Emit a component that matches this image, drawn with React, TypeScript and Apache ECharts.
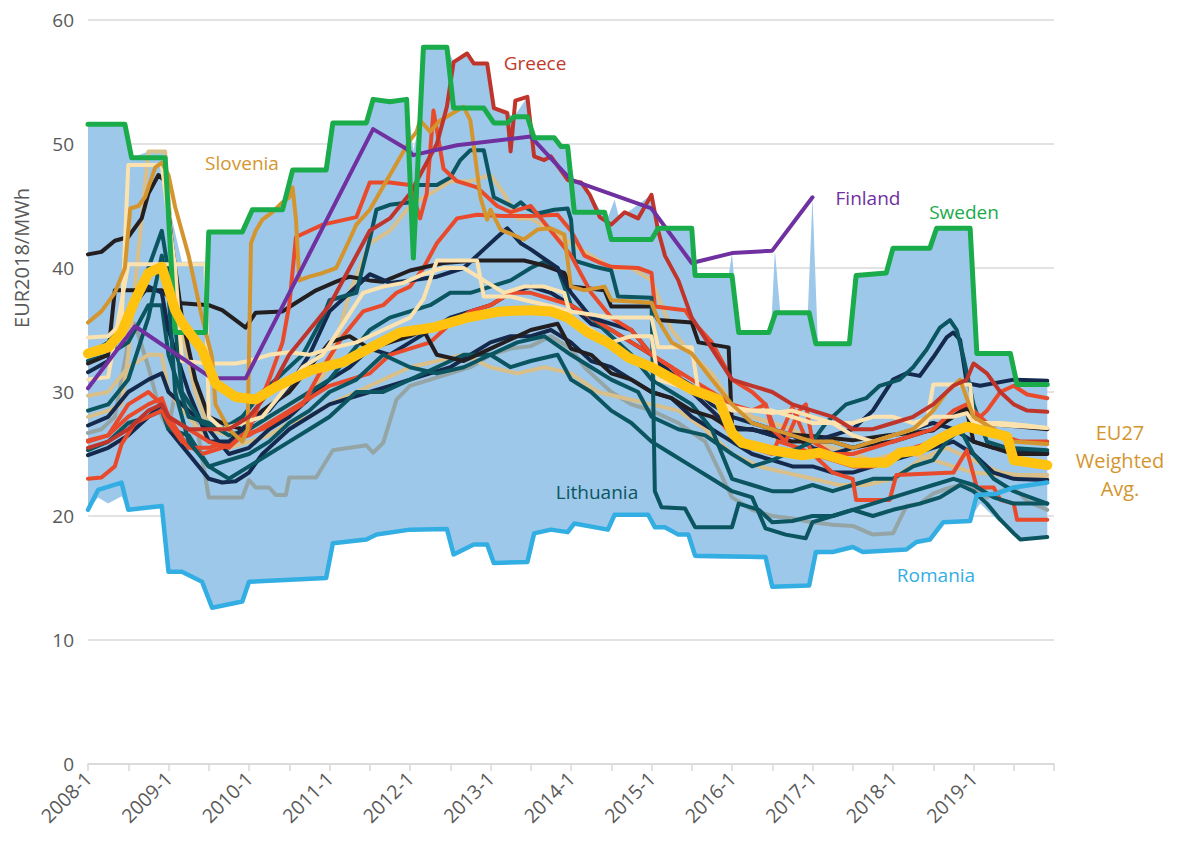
import React, { useEffect, useRef } from "react";
import * as echarts from "echarts";

type P = [number, number];

// x = months since 2008-1
const yearLabels = ["2008-1","2009-1","2010-1","2011-1","2012-1","2013-1","2014-1","2015-1","2016-1","2017-1","2018-1","2019-1"];

const bandTop: P[] = [[0,51.6],[5.5,51.6],[6.5,48.9],[9,49.4],[11.5,49.4],[12.5,44],[14,40.5],[17.5,40.5],[18,42.9],[23,42.9],[24.5,44.7],[29,44.7],[30.5,47.9],[35.5,47.9],[36.5,51.7],[41.5,51.7],[42.5,53.6],[47.5,53.6],[48.5,49.5],[49.5,51.9],[50,57.8],[53.5,57.8],[54.5,56.6],[56.5,57.3],[57.5,56.5],[59.5,56.5],[60.5,52.9],[62.5,52.5],[63.5,52.2],[65.5,53.8],[66.5,50.5],[69.5,50.5],[70.5,49.8],[71.5,49.8],[72.5,47.1],[74,46.9],[75,45.9],[76.5,44.5],[77.5,44.1],[78.5,45.5],[79.2,44],[84,45.9],[85,43.2],[90,43.2],[90.5,39.4],[95.5,39.4],[96,41.2],[96.8,36],[97.2,34.8],[101.8,34.8],[102.4,41.4],[103.2,36.4],[107.3,36.4],[108,45.7],[108.8,33.9],[113.5,33.9],[114.5,39.4],[119,39.6],[120,41.6],[125.5,41.6],[126.5,43.2],[131.5,43.2],[132.5,33.1],[137.5,33.1],[138.5,30.6],[143,30.6]];
const bandBottom: P[] = [[0,20.5],[1.5,21.5],[3,21],[5,21.6],[6,20.5],[11,20.8],[12,15.5],[14,15.5],[17,14.7],[18.5,12.6],[23,13.1],[24,14.7],[35.5,15.0],[36.5,17.8],[41.5,18.1],[43,18.5],[48,18.9],[53.5,18.95],[54.5,16.9],[57.5,17.7],[59.5,17.7],[60.5,16.2],[65.5,16.3],[66.5,18.6],[69,18.9],[71.5,18.7],[72.5,19.4],[77.5,18.9],[78.5,20.1],[83.5,20.1],[84.5,19.1],[86,19.1],[88,18.5],[89.5,18.5],[90.5,16.6],[101,16.5],[102,14.3],[107.5,14.4],[108.5,16.9],[111,17],[114,17.4],[115.5,17],[122,17.2],[123.5,17.8],[125.5,18],[127.5,19.4],[131.5,19.5],[132,20.2],[133,21],[135.5,19.7],[138,18.6],[139,18.1],[143,18.3]];

const sweden: P[] = [[0,51.6],[5.5,51.6],[6.5,48.9],[11.5,48.9],[13,34.8],[17.5,34.8],[18,42.9],[23,42.9],[24.5,44.7],[29,44.7],[30.5,47.9],[35.5,47.9],[36.5,51.7],[41.5,51.7],[42.5,53.6],[45,53.4],[47.5,53.6],[48.5,40.8],[50,57.8],[53.5,57.8],[54.5,52.9],[59,52.9],[60.5,51.7],[62.5,51.7],[63.5,52.2],[65.5,52.2],[66.5,50.5],[69.5,50.5],[70.5,49.8],[71.5,49.8],[72.5,44.5],[77,44.5],[78,42.3],[84,42.3],[85,43.2],[90,43.2],[90.5,39.4],[96,39.4],[97,34.8],[101.5,34.8],[102.5,36.4],[107.5,36.4],[108.5,33.9],[113.5,33.9],[114.5,39.4],[119,39.6],[120,41.6],[125.5,41.6],[126.5,43.2],[131.5,43.2],[132.5,33.1],[137.5,33.1],[138.5,30.6],[143,30.6]];
const finland: P[] = [[0,30.3],[7,35.3],[18.5,31.1],[23.5,31.1],[42.5,51.2],[47.5,49.6],[48.5,49.1],[55,49.9],[66,50.6],[72,47.1],[84,44.8],[90,40.4],[96,41.2],[102,41.4],[108,45.7]];
const romania: P[] = [[0,20.5],[1.5,22.1],[5,22.7],[6,20.5],[11,20.8],[12,15.5],[14,15.5],[17,14.7],[18.5,12.6],[23,13.1],[24,14.7],[35.5,15.0],[36.5,17.8],[41.5,18.1],[43,18.5],[48,18.9],[53.5,18.95],[54.5,16.9],[57.5,17.7],[59.5,17.7],[60.5,16.2],[65.5,16.3],[66.5,18.6],[69,18.9],[71.5,18.7],[72.5,19.4],[77.5,18.9],[78.5,20.1],[83.5,20.1],[84.5,19.1],[86,19.1],[88,18.5],[89.5,18.5],[90.5,16.8],[101,16.7],[102,14.3],[107.5,14.4],[108.5,17.1],[111,17.1],[114,17.5],[115.5,17.1],[122,17.3],[123.5,17.9],[125.5,18.1],[127.5,19.5],[131.5,19.6],[132.5,21.7],[135.5,21.8],[138,22.3],[143,22.7]];
const greece: P[] = [[0,25.5],[3,26],[6,27],[9,28.5],[11,29],[12,28],[15,27],[18,27],[21,27],[24,28],[27,30],[30,33],[33,35],[36,37],[39,40],[42,43],[45,44],[48,46],[50,48],[52,50],[53.5,53],[54.5,56.6],[56.5,57.3],[57.5,56.5],[59.5,56.5],[60.5,52.9],[62.5,52.5],[63,49.4],[63.7,53.5],[65.5,53.8],[66.5,49],[68,48.7],[69,49],[71.5,47.1],[73.5,46.9],[74.8,45.9],[76.3,44.1],[78,43.5],[80,44.5],[82,44],[84,45.9],[85,43],[86,41],[88,39],[90,36],[93,33.5],[96,31],[99,30.5],[102,30],[105,29],[108,28.5],[111,28],[114,27],[117,27],[120,27.5],[123,28],[126,29],[129,30.5],[131,31],[132,32.3],[134,31.5],[136,30],[138,29],[140,28.5],[143,28.4]];
const slovenia: P[] = [[0,35.6],[2,36.5],[4,38],[5.5,40],[6.3,44.8],[7.5,45],[8.5,45.7],[10,48.1],[11,48.5],[12,47.5],[13,44.9],[15,41],[17,36],[18.5,32.8],[19,29],[21,27],[23,26],[23.8,27],[24.3,42],[25,43],[26,43.9],[27.5,44.5],[29,45.3],[30,45.7],[30.5,46.5],[31,43.9],[31.5,39],[33,39.3],[35,39.6],[37,40],[39,42.3],[40,43.5],[42,44.7],[45,47.5],[48,50.3],[49,51],[49.5,51.9],[51,51],[52.5,51.9],[56,53],[57,51.9],[58.5,45.7],[59.5,43.9],[60,44.7],[61.5,43.1],[65,42.3],[67,43.1],[69,43.2],[71,42.7],[72,38.5],[74,38.2],[77,38.5],[78,37.4],[81,37.3],[84,37.2],[85,35.8],[87,34],[90,33.1],[93,31],[96,29],[99,27.5],[102,27],[105,26.5],[108,26],[111,26],[114,25.5],[117,26],[120,26.5],[123,27],[126,28.5],[128,30],[130,31],[132,28],[135,27],[138,26],[143,25.8]];
const eu27Avg: P[] = [[0,33.1],[3,33.6],[5,34.8],[7,37.4],[9,39.6],[11,40.1],[13,36.6],[14,35.6],[17,33.4],[19,30.7],[22,29.6],[25,29.4],[28,30.4],[31,31.2],[33.5,31.8],[38,32.4],[41.5,33.4],[46.5,34.8],[51.5,35.2],[56.5,36.0],[61.5,36.5],[66,36.6],[69,36.5],[71.5,36.0],[74.5,34.8],[77.5,34.0],[80.5,32.8],[84,32.0],[90,30.2],[94,29.4],[96,26.7],[97.5,25.9],[102,25.3],[106.5,24.9],[109,25.1],[111.5,24.7],[114,24.3],[119,24.3],[121,25.1],[124,25.3],[126.5,26.1],[129,26.8],[131,27.2],[134,26.8],[137,26.4],[138,24.5],[143,24.1]];

const black1: P[] = [[0,41.1],[2,41.3],[4,42.2],[6,42.5],[8,44],[9,46],[10.5,47.5],[11.5,47],[12.5,42],[14,36],[16,31],[18,28],[20,27.5],[23,27],[26,28.5],[30,30],[33,32],[36,34],[39,34.5],[42,33.5],[45,34],[48,34.5],[50,35],[52,33],[56,32.5],[60,33.5],[64,34.5],[66,35],[70,35.5],[72,33.5],[75,33],[78,31.5],[81,31],[84,30],[87,29.5],[90,28.5],[93,28],[96,27],[99,27],[102,26.5],[105,26],[108,26],[111,26],[114,25.5],[117,25.8],[120,26],[123,26.5],[126,27],[129,28],[131,28.5],[132,26],[135,25.5],[138,25],[143,25]];
const black2: P[] = [[0,32.3],[3,33],[4,38.2],[11,38.2],[13,37.2],[18,37],[20,36.6],[22,35.8],[23.5,35.2],[25,36.4],[29,36.5],[31,37.2],[34,38.2],[37,38.9],[39,39.3],[42,39],[44,38.9],[48,39.8],[53,40.4],[58,40.6],[65,40.6],[68,40.2],[71,39.6],[72,38.5],[77,38.2],[78,36.9],[84,36.9],[85,35.8],[90,35.6],[91,34],[95.5,33.6],[96,27.2],[102,26.7],[109,26.4],[114,26.1],[119,26.5],[126,26.9],[131,28.8],[132,27.5],[137,27.3],[143,27]];
const navy1: P[] = [[0,31.6],[3,32.5],[6,36.5],[9,38.5],[11,38],[12,35],[15,30],[18,26],[21,26],[24,27.5],[27,28.5],[30,30.5],[33,33],[36,36.5],[39,38],[42,39.5],[45,38.8],[48,39],[52,39.3],[56,40],[59,41.5],[61,42.5],[62.5,43.2],[64.5,42],[66,41.5],[70,40],[72,38],[75,36],[78,35.5],[81,35],[84,33],[87,31],[90,30],[93,28.5],[96,27],[99,27],[102,26.5],[105,26.5],[108,26],[111,26.5],[114,27],[117,28.5],[120,31],[122,31.5],[124,31.3],[126,32.8],[128,34.4],[129,34.8],[130,34.2],[131,30.7],[133,30.5],[138,31],[143,30.9]];
const navy2: P[] = [[0,24.9],[3,25.5],[6,26.5],[9,28],[11,29],[12,27],[15,25],[18,23],[20,22.7],[22,22.8],[24,23.5],[26,25],[28,26],[30,27],[33,28],[36,29],[39,29.5],[42,30],[45,30.5],[48,31],[51,31.5],[54,32],[57,33],[60,34],[63,34.5],[66,34.5],[69,35],[72,34],[75,32.5],[78,32],[81,31],[84,30],[87,29.5],[90,28],[93,27],[96,26],[99,25],[102,24.5],[105,24],[108,24],[111,23.5],[114,23.5],[117,24],[120,24.5],[123,25],[126,25.5],[129,26],[132,25],[135,23.5],[138,23],[143,22.9]];
const navy3: P[] = [[0,27.3],[3,28],[6,30],[9,31],[11,31.5],[12,30],[15,28.5],[18,27],[21,25],[24,25.5],[27,27],[30,28],[33,29.5],[36,31],[39,32],[42,33.5],[45,33],[48,34],[51,35],[54,36],[57,36.5],[60,37],[63,38],[66,38.5],[69,38],[72,37],[75,35.5],[78,35],[81,34],[84,33],[87,31.5],[90,30.5],[93,29],[96,28],[99,27.5],[102,27],[105,26.5],[108,25.5],[111,25],[114,25.5],[117,26],[120,26.5],[123,27],[126,27.5],[129,27],[132,26],[135,25.5],[143,25.1]];
const teal1: P[] = [[0,28.5],[3,29],[6,31],[9,36],[11,41],[12,38],[13,30],[15,26],[18,24],[21,24.5],[24,25],[27,26],[30,27.5],[33,28.5],[36,30],[40,31],[44,33],[48,32],[52,31.5],[56,32],[60,33],[64,34],[68,34.5],[72,33],[75,32],[78,31],[82,30],[84,28],[88,27],[92,26.5],[96,25],[99,24],[102,24.5],[106,25.5],[108,26],[110,27.5],[113,29],[116,29.5],[118,30.5],[121,31],[123,32],[125,33.4],[127,35.2],[128.5,35.8],[129.5,35],[130.5,32.8],[132,29],[134,26],[137,25.5],[143,25.3]];
const lithuania: P[] = [[0,33],[3,34],[6,36],[9,40],[11,43],[12.5,38],[14,30],[17,27.5],[20,27],[23,28],[26,30],[29,31.5],[32,33],[35,36],[36,37.4],[40,38],[42,42.3],[43,44.7],[45,45.1],[48,45.3],[49,46.7],[52,46.7],[54,47.3],[55.5,48.7],[57,49.5],[59,49.5],[60.5,45.7],[62,45.3],[63.5,44.9],[64.5,45.3],[65.5,44.8],[67,44.4],[69.5,44.7],[71.5,44.8],[72,43.9],[72.5,40.6],[75.5,40.1],[78,39.8],[79,37.7],[84,37.6],[84.5,22],[85.5,20.7],[89,20.6],[90.5,19.1],[96,19.1],[97,21],[100,20.5],[102,19.5],[105,19.6],[108,20],[111,20],[114,20.5],[117,21],[120,21.5],[123,22],[126,22.5],[129,23],[132,22.5],[135,21.5],[138,21],[143,21]];
const teal2: P[] = [[0,25.3],[3,26],[6,27.5],[9,28],[11,28.5],[12,27],[15,26.5],[18,24],[21,23],[24,24],[27,25],[30,26],[33,27],[36,28],[40,30],[44,30],[48,31],[52,32],[56,33],[60,33],[63,32],[66,32.5],[70,33],[72,31],[75,30],[78,28.5],[81,27.5],[84,26],[87,25],[90,24],[93,23],[96,22],[99,21.5],[101,19],[104,18.5],[107,18.2],[108,19.5],[111,20],[114,20.5],[117,20],[120,20.5],[124,21],[127,21.5],[130,22.5],[132,22],[134,21],[136,19.7],[138,18.6],[139,18.1],[143,18.3]];
const teal3: P[] = [[0,32.5],[3,33],[6,34],[9,37],[11,37],[12,33],[15,28],[18,27.5],[21,26.5],[24,27],[27,28],[30,29],[33,30],[36,31],[39,33],[42,35],[45,36],[48,36.5],[51,37],[54,38],[57,38],[60,38.5],[63,39],[66,40],[68,40.5],[70,40],[72,37],[75,36],[78,34.5],[81,33],[84,31],[87,30],[90,29],[93,27],[96,23],[99,22.5],[102,22],[105,22],[108,22.5],[111,22],[114,22.5],[117,23],[120,23],[123,24],[126,24.5],[128,26],[130,27],[132,25],[135,23],[138,22],[143,21]];
const red1: P[] = [[0,23],[2,23.1],[4,24],[5,25.8],[7,27.5],[9,28],[11,28.5],[12,27.5],[14,26],[17,25],[20,25.5],[23,26.5],[26,27],[29,28],[32,29],[35,32],[38,34.5],[41,36.5],[44,37],[46,38],[48,38.5],[50,40],[52,42],[55,44],[58,44.3],[62,44.2],[66,44.2],[70,44.3],[72,43],[74,41],[76,40.5],[78,40.1],[82,40],[84,39.6],[84.5,36.9],[89,36.6],[90,35.8],[93,34],[96,31],[99,30],[101,29],[103,26],[106,25.5],[108,25],[111,23.5],[114,23],[114.5,21.3],[119.5,21.3],[120.5,23.3],[129,23.5],[131,25.3],[132.5,22.3],[135,22.3],[136,21.3],[138,21],[138.5,19.7],[143,19.7]];
const red2: P[] = [[0,26],[3,26.5],[6,29],[9,30],[11,29],[12,28],[15,27],[18,26],[21,25.5],[24,27],[27,31],[29,34],[30,37],[31,42.5],[35,43.5],[40,44.1],[42,46.9],[45,46.9],[48,46.7],[49.5,44],[50.5,46],[51.5,52.7],[53,48],[55,47],[58,46.5],[61,45],[63,44.5],[66,45],[69,43],[72,41],[75,38],[78,36],[81,35],[84,33],[87,32],[90,31],[93,30],[96,29],[99,28.5],[101,29],[102,27],[104,26],[106,28.5],[107,29],[108,26],[111,25],[114,25],[117,25.5],[120,26],[123,26.5],[126,27],[129,28.5],[131,29],[133,28],[136,26.5],[139,26],[143,26]];
const red3: P[] = [[0,26.1],[3,26.5],[6,28],[9,29],[11,29.5],[12,28],[15,25.5],[18,25.5],[21,26],[24,26.5],[27,27.5],[30,28.5],[33,29.5],[36,30.5],[39,31],[42,31.5],[45,33],[48,33.5],[51,34],[54,35.5],[57,36.5],[60,37],[63,38],[66,38],[69,37.5],[72,37],[75,36],[78,35],[81,34],[84,33],[87,32],[90,30],[93,28.5],[96,26.5],[99,25.5],[102,25],[104,27.5],[105,28.8],[106,27.5],[108,25],[111,24.5],[114,24],[117,24],[120,24.5],[123,25.5],[126,26],[129,27],[132,27.5],[134,28.5],[136,30],[138,30.5],[140,29.8],[143,29.5]];
const cream1: P[] = [[0,34.4],[3,34.5],[5,35.5],[6,48.3],[11,48.3],[12,44],[13,40],[14,32.5],[18,32.3],[22,32.3],[24,32.5],[27,33],[30,33.2],[33,33],[36,33.5],[40,34],[44,35],[48,36],[50,37.5],[52,40.6],[58,40.6],[59,37.7],[63,37.7],[66,37.3],[70,36.8],[72,36.5],[78,36],[84,36],[85,33.6],[90,33.6],[91,30],[96,28.5],[99,28.5],[102,28.5],[105,28],[108,27.5],[111,27.5],[114,27.5],[117,28],[120,28],[123,27.5],[126,28],[129,28],[131,28.3],[132,27.5],[137,27.3],[143,27.1]];
const cream2: P[] = [[0,31],[3,31.2],[6,40.3],[17.5,40.3],[18,28],[20,27],[23,27.5],[26,28],[29,30],[32,32],[35,33],[38,35.5],[41,38],[44,38.5],[47,38.8],[50,39.5],[53,40],[56,40],[59,39],[62,38],[65,38.5],[68,38.5],[71,38],[72,36],[75,35],[78,34],[81,34.5],[84,34.5],[85,31],[88,30.5],[91,30],[94,29],[96,28.8],[99,28.5],[102,28.3],[105,28.5],[108,28],[111,27.5],[114,26.5],[117,26],[120,26.5],[123,27],[125,27.5],[126,30.6],[131.5,30.6],[132,27.5],[136,27.5],[140,27.3],[143,27.1]];
const tan1: P[] = [[0,28],[3,28.5],[5,29],[6,33],[8,44],[9,49.4],[11.5,49.4],[12.5,42],[14,35],[16,30],[18,27],[21,26.5],[24,27],[27,28],[30,29],[33,30],[36,32],[39,38],[42,42],[45,43],[48,45],[51,46],[54,47],[57,47],[60,47.5],[62,46],[64,44],[66,44],[69,43],[72,42],[75,41],[78,40],[81,40],[84,39],[87,35],[90,33],[93,31.5],[96,29],[99,28],[102,27.5],[105,27],[108,26],[111,25.5],[114,25],[117,24.5],[120,25],[123,25],[126,24.5],[129,24],[132,23.5],[136,23.3],[143,23.3]];
const tan2: P[] = [[0,29.7],[3,30],[6,32],[9,33],[11,33],[12,30],[15,28],[18,26],[21,25.5],[24,26],[27,26.5],[30,27.5],[33,28],[36,29],[40,30],[44,31],[48,32],[52,32.5],[56,33],[60,32],[64,31.5],[68,32],[72,31.5],[76,30],[80,29.5],[84,29],[88,28.5],[92,27],[96,25],[100,24],[104,23.5],[108,23],[112,22.5],[116,22.5],[120,23],[124,24.5],[128,25.5],[132,24.5],[136,23.5],[143,23]];
const grey1: P[] = [[0,26.7],[2,27],[4,28],[6,34],[7,35.5],[9,32],[11,28],[12,27],[13,30],[14,30],[16,28],[18,21.5],[23,21.5],[24,22.9],[25,22.3],[27,22.3],[28,21.7],[29.5,21.7],[30,23.1],[34,23.1],[36.5,25.3],[41.5,25.7],[42.5,25.1],[44,25.9],[46,29.4],[48,30.5],[51,31],[54,31.5],[57,32],[60,33],[63,33.5],[66,33.7],[69,34.5],[72,33.5],[74,32],[76,31],[78,30],[81,29],[84,28.5],[88,27.5],[92,26],[96,21.5],[99,20.5],[102,20],[105,19.8],[108,19.5],[111,19.3],[114,19.2],[117,18.5],[120,18.6],[122,20.8],[124,21],[126,21.8],[128,22.2],[130,22.5],[132,22.3],[134,21.5],[136,22],[138,22.3],[140,21.2],[143,20.5]];

const C = {
  band: "#9dc8ea", navy: "#14294b", teal: "#0b5560", black: "#231f20", red: "#e84a2b",
  darkred: "#c0352b", cream: "#fbe2ae", tan: "#d9bf8a", grey: "#95a5a6", gold: "#d4952f",
  purple: "#7030a0", green: "#1aab4b", lightblue: "#33aee2", yellow: "#ffc20e", axis: "#595959", grid: "#d9d9d9",
};

const lines: [P[], string, number][] = [
  [grey1, C.grey, 4], [tan2, C.tan, 4], [tan1, C.tan, 4], [navy2, C.navy, 4], [navy3, C.navy, 4],
  [teal2, C.teal, 4], [teal3, C.teal, 4], [red1, C.red, 4], [red3, C.red, 4], [black1, C.black, 4],
  [black2, C.black, 4], [navy1, C.navy, 4], [teal1, C.teal, 4], [lithuania, C.teal, 4], [red2, C.red, 4],
  [cream2, C.cream, 4], [cream1, C.cream, 4], [slovenia, C.gold, 4], [greece, C.darkred, 4],
  [finland, C.purple, 4], [romania, C.lightblue, 4.5], [sweden, C.green, 5], [eu27Avg, C.yellow, 10],
];

const FONT = "'Open Sans', 'Noto Sans', sans-serif";

export default function App() {
  const ref = useRef<HTMLDivElement>(null);
  useEffect(() => {
    const chart = echarts.init(ref.current!, null, { renderer: "svg" });
    const series: any[] = [
      {
        type: "custom",
        data: [[0, 0]],
        clip: false,
        silent: true,
        z: 1,
        renderItem: (params: any, api: any) => {
          const pts = bandTop.map((p) => api.coord(p)).concat(bandBottom.slice().reverse().map((p) => api.coord(p)));
          return { type: "polygon", shape: { points: pts }, style: { fill: C.band } };
        },
      },
      ...lines.map(([data, color, width], i) => ({
        type: "line",
        data,
        symbol: "none",
        showSymbol: false,
        silent: true,
        z: 2 + i,
        lineStyle: { color, width, join: "round", cap: "round" },
        itemStyle: { color },
        emphasis: { disabled: true },
      })),
    ];
    const label = (text: string, x: number, y: number, color: string, size = 19) => ({
      type: "text", x, y, z: 100,
      style: { text, fill: color, font: `${size}px ${FONT}`, align: "center", verticalAlign: "middle" },
    });
    chart.setOption({
      animation: false,
      grid: { left: 88, right: 127, top: 20, bottom: 82 },
      xAxis: {
        type: "value", min: 0, max: 144, interval: 6,
        axisLine: { show: true, lineStyle: { color: C.grid, width: 1.5 } },
        axisTick: { show: true, length: 7, lineStyle: { color: C.grid, width: 1.5 } },
        splitLine: { show: false },
        axisLabel: {
          rotate: 45, color: C.axis, fontSize: 19.5, fontFamily: FONT, margin: 11,
          formatter: (v: number) => (v % 12 === 0 && v / 12 < yearLabels.length ? yearLabels[v / 12] : ""),
        },
      },
      yAxis: {
        type: "value", min: 0, max: 60, interval: 10,
        axisLine: { show: false }, axisTick: { show: false },
        splitLine: { lineStyle: { color: C.grid, width: 1.5 } },
        axisLabel: { color: C.axis, fontSize: 19, fontFamily: FONT, margin: 14 },
      },
      graphic: [
        { type: "text", x: 21, y: 258, rotation: Math.PI / 2, z: 100,
          style: { text: "EUR2018/MWh", fill: C.axis, font: `20px ${FONT}`, align: "center", verticalAlign: "middle" } },
        label("Greece", 535, 63, "#c0392b"),
        label("Slovenia", 242, 163, C.gold),
        label("Finland", 868, 198, C.purple),
        label("Sweden", 964, 212, C.green),
        label("Lithuania", 597, 492, C.teal),
        label("Romania", 936, 575, C.lightblue),
        { type: "text", x: 1120, y: 460, z: 100,
          style: { text: "EU27\nWeighted\nAvg.", fill: C.gold, font: `20px ${FONT}`, lineHeight: 28, align: "center", verticalAlign: "middle" } },
      ],
      series,
    });
    return () => chart.dispose();
  }, []);
  return <div ref={ref} style={{ position: "absolute", left: 0, top: 0, width: 1181, height: 846 }} />;
}
